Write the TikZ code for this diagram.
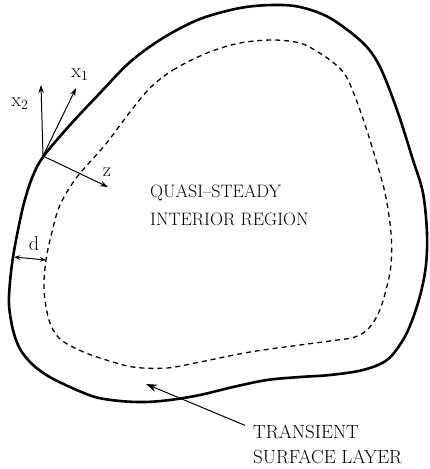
\documentclass[tikz,border=0pt]{standalone}
\usepackage{fontspec}
\usetikzlibrary{arrows.meta}
\begin{document}
\begin{tikzpicture}[x=1pt,y=-1pt,
  outline/.style={line width=2.6pt,line join=round},
  innerline/.style={line width=1.3pt,dash pattern=on 5pt off 4pt},
  axis/.style={line width=1pt,-{Stealth[length=8pt,width=5.5pt]}},
  pointer/.style={line width=1pt,-{Stealth[length=11pt,width=7.5pt]}},
  darrow/.style={line width=1pt,{Stealth[length=6pt,width=4.5pt]}-{Stealth[length=6pt,width=4.5pt]}},
  sym/.style={inner sep=0pt,font=\fontsize{20}{24}\selectfont},
  midlbl/.style={inner sep=0pt,font=\fontsize{18}{22}\selectfont},
  biglbl/.style={inner sep=0pt,font=\fontsize{19}{23}\selectfont},
]
\useasboundingbox (0,0) rectangle (429,469);

% outer boundary
\draw[outline] plot[smooth cycle,tension=0.55] coordinates {
 (43,157) (70,125) (100,93) (130,62) (163,38) (200,19) (240,8) (273,5)
 (300,7) (330,18) (363,43) (380,67) (397,110) (413,160) (423,193) (427,233)
 (426,265) (421,292) (413,318) (403,340) (387,360) (363,370) (330,375) (300,377)
 (267,380) (233,387) (200,395) (170,400) (145,402) (120,401) (95,397) (70,387)
 (48,376) (32,364) (20,349) (13,330) (9,305) (10,282) (13,257) (18,230)
 (24,203) (32,178)};

% inner dashed boundary
\draw[innerline] plot[smooth cycle,tension=0.55] coordinates {
 (150,88) (173,70) (207,53) (240,43) (273,40) (300,43) (318,52) (335,64)
 (347,78) (360,110) (373,150) (385,193) (391,233) (391,265) (386,290) (379,312)
 (369,328) (355,337) (330,341) (300,345) (250,352) (200,362) (167,368) (133,367)
 (100,358) (77,349) (59,338) (49,320) (44,290) (46,260) (52,232) (60,205)
 (77,177) (105,145) (130,112)};

% local axes
\coordinate (O) at (43,156);
\coordinate (x1e) at (76,88);
\coordinate (x2e) at (41,85);
\coordinate (ze) at (108,187);
\draw[axis] (O) -- (x1e);
\draw[axis] (O) -- (x2e);
\draw[axis] (O) -- (ze);
\node[sym] (x1) at (80,75) {x\textsubscript{1}};
\node[sym] (x2) at (20,104) {x\textsubscript{2}};
\node[sym] (z) at (107,172) {z};

% layer thickness
\coordinate (dL) at (14,257);
\coordinate (dR) at (46,260);
\draw[darrow] (dL) -- (dR);
\node[sym] (d) at (34,244) {d};

% labels
\node[midlbl,anchor=base west] (q1) at (150,197) {QUASI--STEADY};
\node[midlbl,anchor=base west] (q2) at (150,225) {INTERIOR REGION};
\node[biglbl,anchor=base west] (t1) at (253,438) {TRANSIENT};
\node[biglbl,anchor=base west] (t2) at (253,463) {SURFACE LAYER};

\coordinate (tip) at (146,384);
\draw[pointer] ([xshift=-8pt,yshift=-1pt]t1.north west) -- (tip);
\end{tikzpicture}
\end{document}
